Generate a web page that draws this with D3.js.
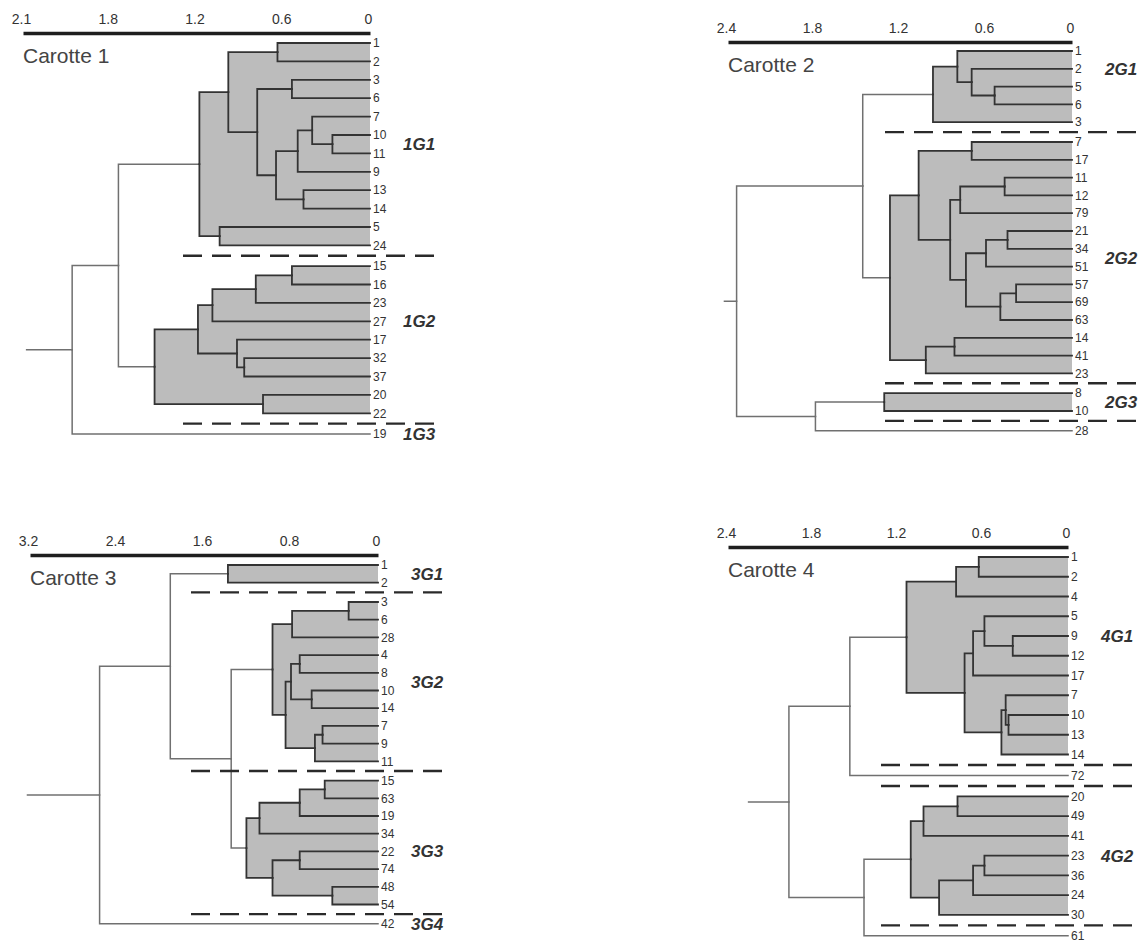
<!DOCTYPE html>
<html>
<head>
<meta charset="utf-8">
<script src="https://cdn.jsdelivr.net/npm/d3@7"></script>
<style>
  body { margin: 0; background: #fff; }
  svg { display: block; }
</style>
</head>
<body>
<div id="chart"></div>
<script>
// Dendrograms: nested [height, childA, childB], leaves are sample labels
const carotte1Ticks = [2.1, 1.8, 1.2, 0.6, 0]
const carotte1Tree =
  [1.93,
    [1.74,
      [1.18,
        [0.98,
          [0.64, "1", "2"],
          [0.78,
            [0.54, "3", "6"],
            [0.65,
              [0.50, [0.40, "7", [0.26, "10", "11"]], "9"],
              [0.46, "13", "14"]]]],
        [1.04, "5", "24"]],
      [1.49,
        [1.19,
          [1.09, [0.79, [0.54, "15", "16"], "23"], "27"],
          [0.92, "17", [0.87, "32", "37"]]],
        [0.74, "20", "22"]]],
    "19"]
const carotte1Stub = 2.09
const carotte1Groups = [
  ["1G1", ["1", "2", "3", "6", "7", "10", "11", "9", "13", "14", "5", "24"], null],
  ["1G2", ["15", "16", "23", "27", "17", "32", "37", "20", "22"], "27"],
  ["1G3", ["19"], null]
]

const carotte2Ticks = [2.4, 1.8, 1.2, 0.6, 0]
const carotte2Tree =
  [2.34,
    [1.46,
      [0.97, [0.80, "1", [0.70, "2", [0.54, "5", "6"]]], "3"],
      [1.27,
        [1.07,
          [0.70, "7", "17"],
          [0.85,
            [0.78, [0.47, "11", "12"], "79"],
            [0.74,
              [0.60, [0.45, "21", "34"], "51"],
              [0.50, [0.39, "57", "69"], "63"]]]],
        [1.02, [0.82, "14", "41"], "23"]]],
    [1.79, [1.31, "8", "10"], "28"]]
const carotte2Stub = 2.43
const carotte2Groups = [
  ["2G1", ["1", "2", "5", "6", "3"], "2"],
  ["2G2", ["7", "17", "11", "12", "79", "21", "34", "51", "57", "69", "63", "14", "41", "23"], null],
  ["2G3", ["8", "10"], null],
  ["", ["28"], null]
]

const carotte3Ticks = [3.2, 2.4, 1.6, 0.8, 0]
const carotte3Tree =
  [2.56,
    [1.91,
      [1.38, "1", "2"],
      [1.35,
        [0.97,
          [0.79, [0.27, "3", "6"], "28"],
          [0.85,
            [0.80, [0.72, "4", "8"], [0.61, "10", "14"]],
            [0.58, [0.51, "7", "9"], "11"]]],
        [1.21,
          [1.09, [0.72, [0.49, "15", "63"], "19"], "34"],
          [0.97, [0.72, "22", "74"], [0.42, "48", "54"]]]]],
    "42"]
const carotte3Stub = 3.23
const carotte3Groups = [
  ["3G1", ["1", "2"], null],
  ["3G2", ["3", "6", "28", "4", "8", "10", "14", "7", "9", "11"], null],
  ["3G3", ["15", "63", "19", "34", "22", "74", "48", "54"], "22"],
  ["3G4", ["42"], null]
]

const carotte4Ticks = [2.4, 1.8, 1.2, 0.6, 0]
const carotte4Tree =
  [1.97,
    [1.54,
      [1.14,
        [0.79, [0.63, "1", "2"], "4"],
        [0.73,
          [0.67, [0.59, "5", [0.39, "9", "12"]], "17"],
          [0.47, [0.44, "7", [0.42, "10", "13"]], "14"]]],
      "72"],
    [1.44,
      [1.11,
        [1.02, [0.78, "20", "49"], "41"],
        [0.91, [0.67, [0.59, "23", "36"], "24"], "30"]],
      "61"]]
const carotte4Stub = 2.26
const carotte4Groups = [
  ["4G1", ["1", "2", "4", "5", "9", "12", "17", "7", "10", "13", "14"], "9"],
  ["", ["72"], null],
  ["4G2", ["20", "49", "41", "23", "36", "24", "30"], null],
  ["", ["61"], null]
]

const FONT = "'Liberation Sans', Arial, Helvetica, sans-serif"
const SHADE = '#bcbcbc'
const DARK = '#333'
const LIGHT = '#707070'

const panels = [
  {title: 'Carotte 1', ticks: carotte1Ticks, tree: carotte1Tree, stub: carotte1Stub, groups: carotte1Groups,
   x0: 23, x1: 370, axisY: 33, top: 43, step: 18.4, gap: 2.3},
  {title: 'Carotte 2', ticks: carotte2Ticks, tree: carotte2Tree, stub: carotte2Stub, groups: carotte2Groups,
   x0: 728, x1: 1072, axisY: 42, top: 51, step: 17.8, gap: 2},
  {title: 'Carotte 3', ticks: carotte3Ticks, tree: carotte3Tree, stub: carotte3Stub, groups: carotte3Groups,
   x0: 30, x1: 378, axisY: 555, top: 565, step: 17.7, gap: 1.6},
  {title: 'Carotte 4', ticks: carotte4Ticks, tree: carotte4Tree, stub: carotte4Stub, groups: carotte4Groups,
   x0: 728, x1: 1068, axisY: 547, top: 557, step: 19.75, gap: 1.2},
]

const svg = d3.select('#chart').append('svg')
  .attr('width', 1147).attr('height', 944)
  .style('font-family', FONT)

panels.forEach(p => drawPanel(p))

function drawPanel(p){
  const g = svg.append('g')
  const n = p.ticks.length
  // ticks are evenly spaced along the bar, as printed
  const x = d3.scaleLinear().domain(p.ticks)
    .range(p.ticks.map((t, i) => p.x0 + i * (p.x1 - p.x0) / (n - 1)))
  const xEnd = x(0)

  const root = d3.hierarchy(p.tree, d => Array.isArray(d) ? d.slice(1) : null)
  const leaves = root.leaves()

  const groupOf = new Map()
  p.groups.forEach((gr, gi) => gr[1].forEach(m => groupOf.set(m, gi)))

  leaves.forEach((l, i) => {
    l.y = p.top + i * p.step + groupOf.get(l.data) * p.gap
    l.x = xEnd
  })
  root.eachAfter(nd => {
    if (nd.children){
      nd.x = x(nd.data[0])
      nd.y = d3.mean(nd.children, c => c.y)
    }
  })
  const leafY = new Map(leaves.map(l => [l.data, l.y]))

  // nodes belonging to a shaded group
  const inGroup = new Set()
  p.groups.forEach(gr => {
    const members = gr[1]
    if (members.length < 2) return
    const set = new Set(members)
    const node = root.descendants().find(nd => nd.children &&
      nd.leaves().length === members.length && nd.leaves().every(l => set.has(l.data)))
    if (node) node.descendants().forEach(d => inGroup.add(d))
  })

  // shaded area
  g.append('g').selectAll('rect')
    .data(root.descendants().filter(nd => nd.children && inGroup.has(nd)))
    .join('rect')
    .attr('x', nd => nd.x)
    .attr('y', nd => nd.children[0].y)
    .attr('width', nd => xEnd - nd.x)
    .attr('height', nd => nd.children[1].y - nd.children[0].y)
    .attr('fill', SHADE)

  // branches
  g.append('g').selectAll('path')
    .data(root.links())
    .join('path')
    .attr('d', l => `M${l.source.x},${l.source.y}V${l.target.y}H${l.target.x}`)
    .attr('fill', 'none')
    .attr('stroke', l => inGroup.has(l.source) ? DARK : LIGHT)
    .attr('stroke-width', l => inGroup.has(l.source) ? 1.8 : 1.5)
    .attr('stroke-linecap', 'square')

  g.append('line')
    .attr('x1', x(p.stub)).attr('x2', root.x)
    .attr('y1', root.y).attr('y2', root.y)
    .attr('stroke', LIGHT).attr('stroke-width', 1.5)

  // leaf labels
  g.append('g').selectAll('text')
    .data(leaves)
    .join('text')
    .attr('x', xEnd + 3)
    .attr('y', l => l.y)
    .attr('dy', '0.35em')
    .attr('font-size', 12)
    .attr('fill', DARK)
    .text(l => l.data)

  // separators between groups
  const seps = d3.pairs(p.groups).map(([a, b]) =>
    (leafY.get(a[1][a[1].length - 1]) + leafY.get(b[1][0])) / 2)
  g.append('g').selectAll('line')
    .data(seps)
    .join('line')
    .attr('x1', xEnd - 187).attr('x2', xEnd + 72)
    .attr('y1', d => d).attr('y2', d => d)
    .attr('stroke', '#2a2a2a').attr('stroke-width', 2.4)
    .attr('stroke-dasharray', '19,10')

  // group names
  g.append('g').selectAll('text')
    .data(p.groups.filter(gr => gr[0]))
    .join('text')
    .attr('x', xEnd + 33)
    .attr('y', gr => gr[2] ? leafY.get(gr[2])
      : (leafY.get(gr[1][0]) + leafY.get(gr[1][gr[1].length - 1])) / 2)
    .attr('dy', '0.35em')
    .attr('font-size', 17)
    .attr('font-weight', 'bold')
    .attr('font-style', 'italic')
    .attr('fill', DARK)
    .text(gr => gr[0])

  // scale bar
  const ax = g.append('g')
    .attr('transform', `translate(0,${p.axisY})`)
    .call(d3.axisTop(x).tickValues(p.ticks).tickSize(0).tickSizeOuter(0).tickPadding(9).tickFormat(d => d))
  ax.attr('font-family', FONT)
  ax.select('.domain').attr('stroke', '#1e1e1e').attr('stroke-width', 3.5)
  ax.selectAll('.tick text').attr('font-size', 14).attr('fill', DARK).attr('dx', -2)

  g.append('text')
    .attr('x', p.x0).attr('y', p.axisY + 30)
    .attr('font-size', 21)
    .attr('fill', '#444')
    .text(p.title)
}
</script>
</body>
</html>
